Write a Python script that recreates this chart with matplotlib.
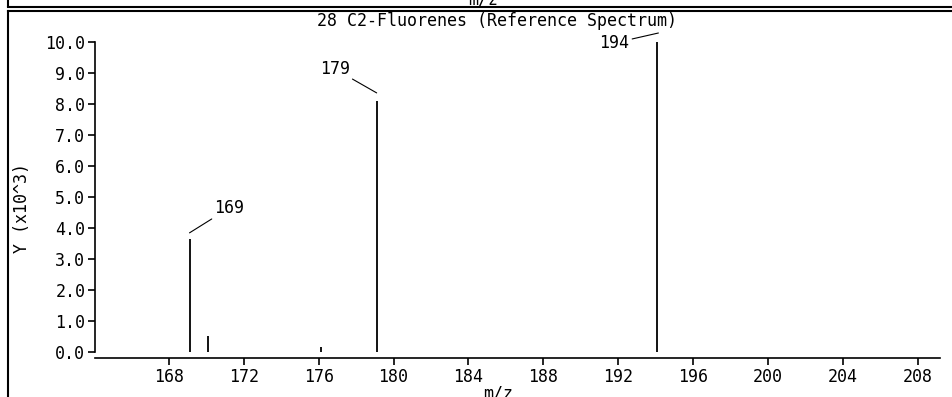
import matplotlib
matplotlib.use("Agg")
import matplotlib.pyplot as plt
from matplotlib.lines import Line2D
from matplotlib.transforms import offset_copy

plt.rcParams["font.family"] = ["DejaVu Sans Mono"]

# spectrum peaks (m/z, intensity x10^3)
mz = [169.1, 170.1, 176.1, 179.1, 194.1]
intensity = [3.65, 0.52, 0.15, 8.1, 10.0]
peak_labels = ["169", "", "", "179", "194"]
xticks = [168, 172, 176, 180, 184, 188, 192, 196, 200, 204, 208]
yticks = [0, 1, 2, 3, 4, 5, 6, 7, 8, 9, 10]

# leader line tip offset / label text offset (pixels, from the peak top)
tip_off = {"169": (0, 6), "179": (0, 8), "194": (1, 9)}
text_off = {"169": (25, 31), "179": (-27, 32), "194": (-28, -1)}

W, H = 953, 397
fig = plt.figure(figsize=(W / 100, H / 100), dpi=100)
ax = fig.add_axes([95 / W, 1 - 352 / H, (940 - 95) / W, (352 - 42) / H])

ax.vlines(mz, 0, intensity, color="black", linewidth=1.3)
for m, v, lab in zip(mz, intensity, peak_labels):
    if not lab:
        continue
    tx, ty = tip_off[lab]
    dx, dy = text_off[lab]
    tip = offset_copy(ax.transData, fig=fig, x=tx, y=ty, units="dots")
    ax.annotate(lab, xy=(m, v), xycoords=tip, xytext=(dx - tx, dy - ty),
                textcoords="offset pixels", fontsize=12,
                ha="left" if dx > 0 else "right", va="center",
                arrowprops=dict(arrowstyle="-", color="black", lw=0.8,
                                shrinkA=0, shrinkB=0))

ax.set_xlim(164.05, 209.2)
ax.set_ylim(0, 10)
ax.set_xticks(xticks)
ax.set_yticks(yticks)
ax.set_yticklabels([f"{v:.1f}" for v in yticks])
ax.tick_params(labelsize=12, length=5, width=1.2, colors="black", pad=2)
ax.spines["top"].set_visible(False)
ax.spines["right"].set_visible(False)
ax.spines["bottom"].set_position(("outward", 4.5))
ax.spines["left"].set_bounds(0, 10)
ax.spines["left"].set_linewidth(1.2)
ax.spines["bottom"].set_linewidth(1.2)


def fx(px):
    return px / W


def fy(py):
    return 1 - py / H


fig.text(fx(497), fy(21), "28 C2-Fluorenes (Reference Spectrum)", fontsize=12,
         ha="center", va="center")
fig.text(fx(22), fy(208), "Y (x10^3)", fontsize=12, rotation=90,
         ha="center", va="center")
fig.text(fx(498), fy(393), "m/z", fontsize=12, ha="center", va="center")

# surrounding frame lines (bottom of previous panel, top of this one)
fig.add_artist(Line2D([fx(8), fx(8)], [fy(0), fy(6)], color="black", lw=1.5))
fig.add_artist(Line2D([fx(8), fx(W)], [fy(7), fy(7)], color="black", lw=1.5))
fig.add_artist(Line2D([fx(8), fx(W)], [fy(11), fy(11)], color="black", lw=1.5))
fig.add_artist(Line2D([fx(8), fx(8)], [fy(11), fy(H)], color="black", lw=1.5))
fig.text(fx(483), fy(0), "m/z", fontsize=12, ha="center", va="center")

fig.savefig("out.png", dpi=100)
